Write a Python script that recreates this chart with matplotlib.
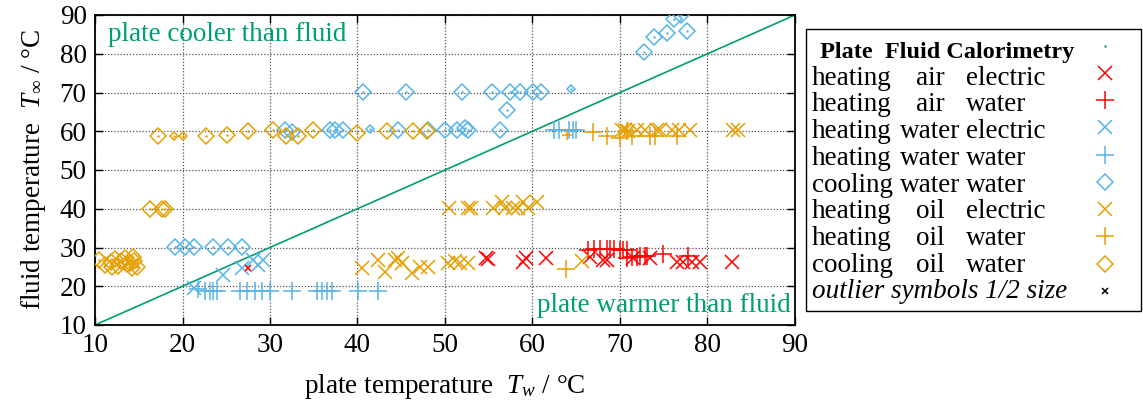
import matplotlib
matplotlib.use('Agg')
import matplotlib.pyplot as plt
from matplotlib.lines import Line2D
from matplotlib.patches import Rectangle

plt.rcParams['font.family'] = ['Liberation Serif', 'DejaVu Serif']
plt.rcParams['mathtext.fontset'] = 'custom'
plt.rcParams['mathtext.rm'] = 'Liberation Serif'
plt.rcParams['mathtext.it'] = 'Liberation Serif:italic'

RED = '#ff0000'
BLUE = '#56b4e9'
ORANGE = '#e69f00'
GREEN = '#009e73'
FS = 19.5

# heating air electric
air_el_x = [54.7, 54.9, 58.9, 59.3, 61.6, 66.6, 68.1, 68.5, 71.5, 73.4, 76.5, 77.2, 78.2, 79.1, 82.8]
air_el_y = [27.3, 27.0, 26.3, 27.3, 27.3, 27.5, 26.8, 26.8, 27.3, 27.3, 26.2, 26.2, 26.2, 26.2, 26.2]
# heating air water
air_w_x = [66.4, 67.0, 67.7, 68.5, 68.9, 69.3, 70.0, 70.3, 70.8, 70.8, 71.4, 72.0, 72.3, 72.9, 73.1, 74.9, 77.8]
air_w_y = [29.4, 29.6, 29.6, 29.6, 29.6, 29.6, 29.4, 29.4, 29.4, 27.3, 27.5, 27.5, 27.8, 27.8, 27.8, 28.3, 27.8]
# heating water electric
wat_el_x = [21.3, 24.6, 26.8, 28.1, 28.6, 29.2]
wat_el_y = [19.5, 22.9, 24.7, 26.8, 25.6, 26.8]
# heating water water
wat_w_x = [21.8, 22.6, 23.1, 23.5, 23.9, 26.6, 27.4, 28.3, 29.1, 30.0, 32.5, 35.4, 35.9, 36.5,
           37.1, 40.1, 42.3, 62.5, 63.0, 64.2, 64.6, 65.0]
wat_w_y = [19.2, 18.8, 18.8, 18.8, 18.8, 18.8, 18.8, 18.8, 18.8, 18.8, 18.8, 18.8, 18.8, 18.8,
           18.8, 18.8, 18.8, 60.3, 60.3, 60.3, 60.3, 60.3]
# cooling water water
wat_c_x = [19.1, 20.3, 21.3, 23.5, 25.2, 26.8, 31.7, 32.5, 36.9, 37.4, 38.3, 44.6, 48.1, 50.0,
           51.4, 52.3, 52.6, 56.3, 57.1, 40.6, 45.5, 52.0, 55.4, 57.4, 58.6, 60.1, 61.0,
           72.7, 73.9, 75.4, 76.2, 77.0, 77.7]
wat_c_y = [30.1, 30.1, 30.1, 30.1, 30.1, 30.1, 60.3, 59.8, 60.3, 60.3, 60.3, 60.3, 60.3, 60.3,
           60.3, 60.8, 60.3, 60.3, 65.5, 70.1, 70.1, 70.1, 70.1, 70.1, 70.1, 70.1, 70.1,
           80.4, 84.4, 85.3, 88.9, 90.0, 85.9]
# heating oil electric
oil_el_x = [40.5, 42.3, 43.1, 44.3, 44.6, 45.1, 46.2, 47.1, 48.1, 50.3, 51.1, 51.7, 52.6, 65.7,
            50.5, 52.6, 53.0, 55.5, 56.5, 56.9, 57.8, 58.3, 58.9, 59.5, 60.5,
            70.2, 70.6, 70.9, 71.9, 72.9, 74.2, 74.6, 75.9, 76.8, 78.0, 82.9, 83.5]
oil_el_y = [24.7, 26.8, 23.7, 26.8, 27.3, 26.0, 23.4, 25.0, 25.0, 26.0, 26.5, 26.0, 26.0, 26.5,
            40.2, 40.2, 40.2, 40.2, 41.7, 40.2, 40.2, 40.2, 41.7, 40.2, 41.7,
            60.3, 60.3, 60.0, 60.3, 60.3, 60.3, 60.3, 60.3, 60.3, 60.3, 60.3, 60.3]
# heating oil water
oil_w_x = [63.8, 66.9, 68.5, 70.0, 70.8, 71.4, 73.4, 74.0, 76.5]
oil_w_y = [24.5, 59.8, 58.8, 58.3, 60.1, 58.8, 58.8, 58.8, 58.8]
# cooling oil water
oil_c_x = [10.5, 11.2, 11.8, 12.0, 12.3, 12.6, 13.0, 13.4, 13.7, 14.0, 14.2, 14.3, 14.5, 14.8,
           16.3, 17.7, 18.0, 17.2, 22.7, 25.1, 27.5, 30.3, 31.8, 33.2, 34.9, 39.9, 43.4, 46.3, 48.0]
oil_c_y = [26.8, 25.5, 26.2, 25.0, 27.0, 25.3, 26.5, 27.3, 25.8, 26.0, 24.8, 27.5, 26.5, 25.0,
           40.0, 40.0, 40.0, 58.8, 58.8, 59.0, 60.0, 60.3, 58.9, 58.8, 60.3, 59.5, 60.0, 60.0, 60.0]

# outliers, drawn at half size
out_x = [27.5, 19.0, 20.1, 41.4, 64.4, 63.9]
out_y = [24.7, 58.8, 58.8, 60.6, 70.9, 59.0]
out_kind = ['air_el', 'oil_c', 'oil_c', 'wat_c', 'wat_c', 'oil_w']

legend_rows = [('heating', 'air', 'electric'), ('heating', 'air', 'water'),
               ('heating', 'water', 'electric'), ('heating', 'water', 'water'),
               ('cooling', 'water', 'water'), ('heating', 'oil', 'electric'),
               ('heating', 'oil', 'water'), ('cooling', 'oil', 'water')]

styles = {
    'air_el': dict(marker='x', color=RED, ms=10),
    'air_w': dict(marker='+', color=RED, ms=13),
    'wat_el': dict(marker='x', color=BLUE, ms=10),
    'wat_w': dict(marker='+', color=BLUE, ms=13),
    'wat_c': dict(marker='D', color=BLUE, ms=8.5),
    'oil_el': dict(marker='x', color=ORANGE, ms=10),
    'oil_w': dict(marker='+', color=ORANGE, ms=13),
    'oil_c': dict(marker='D', color=ORANGE, ms=8.5),
}
series = [('air_el', air_el_x, air_el_y), ('air_w', air_w_x, air_w_y),
          ('wat_el', wat_el_x, wat_el_y), ('wat_w', wat_w_x, wat_w_y),
          ('wat_c', wat_c_x, wat_c_y), ('oil_el', oil_el_x, oil_el_y),
          ('oil_w', oil_w_x, oil_w_y), ('oil_c', oil_c_x, oil_c_y)]

W, H = 1143, 408
fig = plt.figure(figsize=(W / 100, H / 100), dpi=100)
ax = fig.add_axes([95 / W, 1 - 325 / H, 700 / W, 310 / H])

def draw(kind, x, y, scale=1.0):
    st = styles[kind]
    ax.plot(x, y, linestyle='none', marker=st['marker'], color=st['color'],
            ms=st['ms'] * scale, mew=1.1, mfc='none', zorder=3)
    if st['marker'] == 'D':
        ax.plot(x, y, linestyle='none', marker='.', color=st['color'], ms=1.5, zorder=3)

for kind, x, y in series:
    draw(kind, x, y)
for k, x, y in zip(out_kind, out_x, out_y):
    draw(k, [x], [y], 0.5)

ax.plot([10, 90], [10, 90], color=GREEN, lw=1.2, zorder=2)

ax.set_xlim(10, 90)
ax.set_ylim(10, 90)
ax.set_xticks(range(10, 91, 10))
ax.set_yticks(range(10, 91, 10))
ax.grid(True, linestyle=(0, (1, 1.5)), color='#555555', lw=0.9)
ax.tick_params(direction='in', length=6, width=1, top=True, right=True, labelsize=FS, pad=6)
for s in ax.spines.values():
    s.set_linewidth(1.3)

ax.text(11.5, 83.3, 'plate cooler than fluid', color=GREEN, fontsize=FS)
ax.text(89.5, 13.3, 'plate warmer than fluid', color=GREEN, fontsize=FS, ha='right')

ax.set_xlabel('plate temperature  $T_w$ / °C', fontsize=FS, labelpad=10)
ax.set_ylabel('fluid temperature  $T_\\infty$ / °C', fontsize=FS, labelpad=8)

# legend frame and text columns
def fx(px):
    return px / W

def fy(py):
    return 1 - py / H

fig.add_artist(Rectangle((fx(806), fy(311)), fx(1141) - fx(806), fy(29) - fy(311),
                         transform=fig.transFigure, fill=False, ec='black', lw=1.0))
row0 = 51
pitch = 26.7
fig.text(fx(820), fy(row0 + 7), 'Plate  Fluid Calorimetry', fontsize=17.5, weight='bold')
for i, (a, b, c) in enumerate(legend_rows):
    base = row0 + pitch * (i + 1) + 7
    fig.text(fx(812), fy(base), a, fontsize=FS)
    fig.text(fx(930), fy(base), b, fontsize=FS, ha='center')
    fig.text(fx(966), fy(base), c, fontsize=FS)
fig.text(fx(812), fy(row0 + pitch * 9 + 7), 'outlier symbols 1/2 size', fontsize=FS, style='italic')

handles = [Line2D([], [], linestyle='none', marker='.', color=GREEN, ms=1.5)]
for kind, _, _ in series:
    st = styles[kind]
    handles.append(Line2D([], [], linestyle='none', marker=st['marker'], color=st['color'],
                          ms=st['ms'], mew=1.1, mfc='none'))
handles.append(Line2D([], [], linestyle='none', marker='x', color='black', ms=5, mew=1.1))
fig.legend(handles=handles, labels=[''] * len(handles), loc='upper left',
           bbox_to_anchor=(fx(1092), fy(row0 - 13)), frameon=False, fontsize=16,
           borderpad=0, borderaxespad=0, labelspacing=0.3, handlelength=1.2,
           handletextpad=0)

fig.savefig('out.png', dpi=100)
